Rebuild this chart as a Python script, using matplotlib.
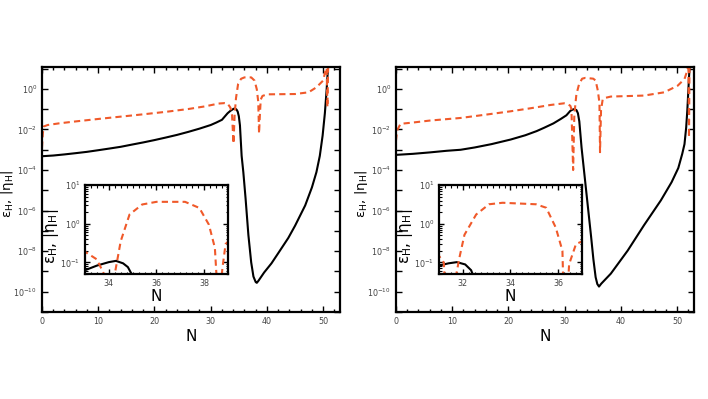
import numpy as np
import matplotlib
matplotlib.use("Agg")
import matplotlib.pyplot as plt
from matplotlib.ticker import FixedLocator, MultipleLocator, FuncFormatter, LogLocator, NullFormatter

# ---------------- data ----------------
# Left panel: epsilon_H (solid black) and |eta_H| (dashed orange)
N_eps_L = [0, 2, 4, 6, 8, 10, 12, 14, 16, 18, 20, 22, 24, 26, 28, 30, 31, 32, 33, 33.5, 34.0,
           34.3, 34.6, 34.8, 35.0, 35.2, 35.5, 35.8, 36.2, 36.7, 37.2, 37.6, 38.0, 38.2, 38.5,
           39.5, 40.8, 42, 43.8, 45, 46.8, 48, 48.8, 49.4, 49.9, 50.3, 50.6, 50.8, 51.0]
eps_L = [4.8e-4, 5.2e-4, 5.9e-4, 6.8e-4, 7.9e-4, 9.5e-4, 1.15e-3, 1.4e-3, 1.8e-3, 2.3e-3, 3.0e-3,
         4.0e-3, 5.4e-3, 7.6e-3, 1.1e-2, 1.66e-2, 2.2e-2, 3.0e-2, 6.3e-2, 8.3e-2, 0.102,
         0.11, 0.095, 0.076, 0.045, 0.016, 5e-4, 7.9e-5, 4e-6, 6.3e-8, 2.8e-9, 5.6e-10, 3.0e-10,
         2.75e-10, 3.5e-10, 8.9e-10, 2.5e-9, 7.9e-9, 4.5e-8, 1.8e-7, 1.8e-6, 1.4e-5, 7.9e-5,
         5e-4, 5e-3, 6.3e-2, 0.8, 6.3, 40]
N_eta_L = [0, 0.15, 0.3, 1, 3, 6, 10, 14, 18, 22, 26, 29, 31.4, 32.5, 33.0, 33.5, 33.8, 34.05,
           34.25, 34.5, 34.87, 35.4, 36.0, 37.2, 37.8, 38.2, 38.45, 38.6, 38.77, 38.9, 39.2, 40,
           45, 47.4, 48.8, 50.0, 50.4, 50.6, 50.75, 50.9]
eta_L = [1.26e-3, 6.3e-3, 1.4e-2, 1.66e-2, 2.0e-2, 2.5e-2, 3.3e-2, 4.3e-2, 5.6e-2, 7.4e-2, 0.102,
         0.138, 0.19, 0.2, 0.19, 0.12, 0.05, 2e-3, 0.05, 0.355, 1.74, 3.16, 3.7, 3.7, 2.57, 0.95,
         0.24, 6.3e-3, 0.074, 0.3, 0.45, 0.54, 0.56, 0.68, 1.2, 2.6, 8.0, 20, 0.126, 20]

# Right panel
N_eps_R = [0, 3, 6, 9, 11.5, 14, 17, 20.4, 23, 25, 26.3, 28, 29.3, 30.3, 31.0, 31.4, 31.75,
           32.1, 32.35, 32.6, 33.0, 33.5, 34.0, 34.7, 35.1, 35.5, 35.8, 36.1, 36.5, 38.2, 41.2,
           44.1, 47.1, 49.0, 50.2, 50.9, 51.3, 51.6, 51.8, 52.0, 52.1, 52.3]
eps_R = [5.6e-4, 6.3e-4, 7.4e-4, 8.9e-4, 1.0e-3, 1.3e-3, 1.9e-3, 3.2e-3, 5.2e-3, 8.3e-3, 1.2e-2,
         2.0e-2, 3.3e-2, 5.0e-2, 8.3e-2, 9.5e-2, 0.102, 0.089, 0.063, 0.025, 1.26e-3, 6.3e-5,
         3.2e-6, 5e-8, 4e-9, 5.2e-10, 2.4e-10, 1.8e-10, 2.5e-10, 7.8e-10, 1.07e-8, 1.9e-7,
         3.2e-6, 2.5e-5, 1.26e-4, 6.3e-4, 1.9e-3, 1.26e-2, 8.5e-2, 1.0, 3.7, 32]
N_eta_R = [0, 0.2, 0.8, 3, 6, 11.5, 16, 20.4, 24, 27.5, 29.9, 30.5, 31.0, 31.2, 31.5, 31.7,
           31.86, 32.07, 32.56, 33.1, 33.67, 35.07, 35.5, 35.9, 36.18, 36.28, 36.46, 36.75, 37.0,
           38.2, 44.1, 47.7, 50.1, 51.3, 51.8, 52.0, 52.1, 52.2]
eta_R = [2.8e-3, 8.9e-3, 1.9e-2, 2.2e-2, 2.75e-2, 3.7e-2, 5.4e-2, 7.9e-2, 0.112, 0.162, 0.195,
         0.178, 0.148, 0.1, 1e-4, 0.04, 0.135, 0.52, 1.74, 3.2, 3.5, 3.2, 2.6, 0.8, 0.2, 7.6e-4,
         0.09, 0.3, 0.35, 0.42, 0.47, 0.68, 1.45, 3.1, 8, 20, 4e-3, 20]

inset_xlim_L = (33, 39)
inset_xlim_R = (31, 37)
inset_xticks_L = [34, 36, 38]
inset_xticks_R = [32, 34, 36]

ylabel = r'ε$_\mathrm{H}$, |η$_\mathrm{H}$|'
ORANGE = '#F0592A'
TICKCOL = '#444444'

fig = plt.figure(figsize=(7.08, 3.99), dpi=100)


def dec_fmt(v, pos):
    e = int(round(np.log10(v)))
    if e % 2 != 0:
        return ''
    return r'$\mathdefault{10^{%d}}$' % e


def style_main(ax):
    ax.set_yscale('log')
    ax.set_xlim(0, 53)
    ax.set_ylim(1e-11, 12)
    ax.xaxis.set_major_locator(MultipleLocator(10))
    ax.xaxis.set_minor_locator(MultipleLocator(2))
    ax.yaxis.set_major_locator(FixedLocator([10.0 ** e for e in range(-11, 2)]))
    ax.yaxis.set_major_formatter(FuncFormatter(dec_fmt))
    ax.yaxis.set_minor_locator(FixedLocator([]))
    ax.tick_params(which='both', direction='in', top=True, right=True, colors='black',
                   labelcolor=TICKCOL, labelsize=5.8)
    ax.tick_params(which='major', length=4, width=1.0)
    ax.tick_params(which='minor', length=2, width=1.0)
    for s in ax.spines.values():
        s.set_linewidth(1.6)
    ax.set_xlabel('N', fontsize=11, labelpad=2)
    ax.set_ylabel(ylabel, fontsize=9.5)
    ax.yaxis.set_label_coords(-0.088, 0.48)


def style_inset(ax, xlim, xticks):
    ax.set_yscale('log')
    ax.set_xlim(*xlim)
    ax.set_ylim(0.05, 10)
    ax.xaxis.set_major_locator(FixedLocator(xticks))
    ax.xaxis.set_minor_locator(MultipleLocator(0.25))
    ax.yaxis.set_major_locator(FixedLocator([0.1, 1, 10]))
    ax.yaxis.set_minor_locator(LogLocator(base=10, subs=np.arange(2, 10), numticks=10))
    ax.yaxis.set_minor_formatter(NullFormatter())
    ax.tick_params(which='both', direction='in', top=True, right=True,
                   labelcolor=TICKCOL, labelsize=5.8)
    ax.tick_params(which='major', length=3.5, width=1.0)
    ax.tick_params(which='minor', length=1.8, width=0.8)
    for s in ax.spines.values():
        s.set_linewidth(1.6)
    ax.set_xlabel('N', fontsize=11, labelpad=1)
    ax.set_ylabel(ylabel, fontsize=11)
    ax.yaxis.set_label_coords(-0.168, 0.42)


panels = [
    (0.0593, 0.120, N_eps_L, eps_L, N_eta_L, eta_L, inset_xlim_L, inset_xticks_L),
    (0.5593, 0.620, N_eps_R, eps_R, N_eta_R, eta_R, inset_xlim_R, inset_xticks_R),
]

for left, ileft, Ne, e, Nh, h, ixl, ixt in panels:
    ax = fig.add_axes([left, 0.218, 0.421, 0.614])
    ax.plot(Ne, e, color='black', lw=1.5, solid_joinstyle='round')
    ax.plot(Nh, h, color=ORANGE, lw=1.5, ls=(0, (3, 2)))
    style_main(ax)

    ins = fig.add_axes([ileft, 0.313, 0.202, 0.223])
    ins.plot(Ne, e, color='black', lw=1.5, solid_joinstyle='round')
    ins.plot(Nh, h, color=ORANGE, lw=1.5, ls=(0, (3, 2)))
    style_inset(ins, ixl, ixt)

fig.savefig('out.png', dpi=100)
